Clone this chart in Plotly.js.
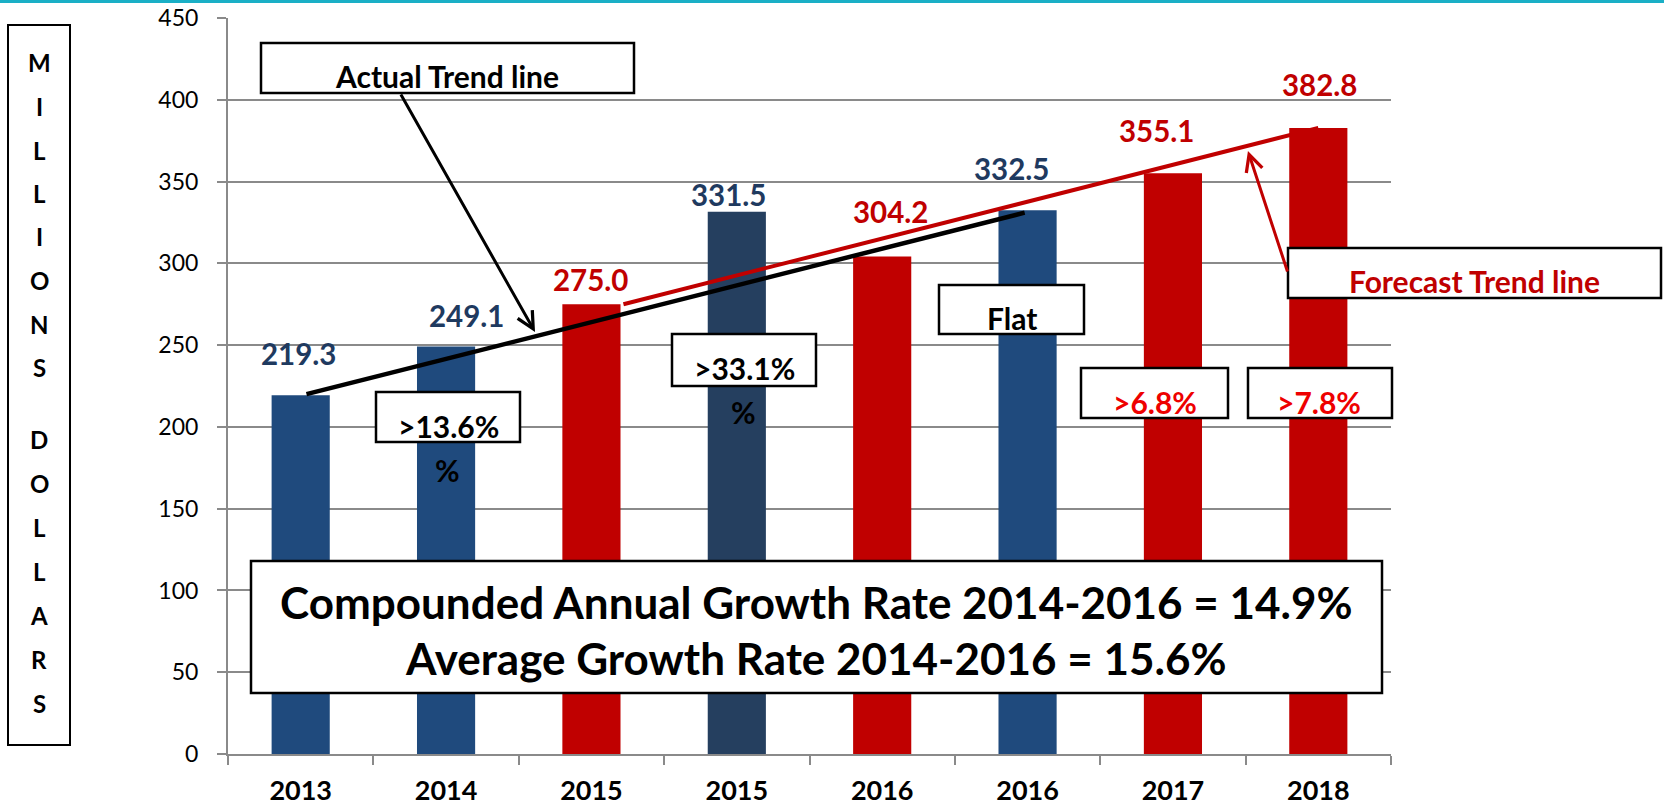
<!DOCTYPE html>
<html>
<head>
<meta charset="utf-8">
<script src="https://cdn.plot.ly/plotly-3.0.1.min.js"></script>
<style>
body { margin: 0; background: #fff; }
#plot { width: 1664px; height: 810px; }
</style>
</head>
<body>
<div id="plot"></div>
<script>
// values
var years = ["2013", "2014", "2015", "2015", "2016", "2016", "2017", "2018"];
var revenue = [219.3, 249.1, 275.0, 331.5, 304.2, 332.5, 355.1, 382.8];

// trend lines (x = category slot, y = millions)
var actualTrendX = [0.04, 4.98];
var actualTrendY = [220, 331];
var forecastTrendX = [2.22, 7.0];
var forecastTrendY = [275, 382.8];

var growthLabels = [">13.6%", ">33.1%", "Flat", ">6.8%", ">7.8%"];
var summaryLines = ["Compounded Annual Growth Rate 2014-2016 = 14.9%", "Average Growth Rate 2014-2016 = 15.6%"];
var axisWord1 = "MILLIONS";
var axisWord2 = "DOLLARS";

// styles
var BLUE = "#1F4A7D", NAVY = "#253F5F", RED = "#C00000";
var barColors = [BLUE, BLUE, RED, NAVY, RED, BLUE, RED, RED];
var labelColors = ["#1F3A5F", "#1F3A5F", RED, "#1F3A5F", RED, "#1F3A5F", RED, RED];
// label nudges in px (labels sit by hand above the bars)
var labelDx = [-2, 20, -1, -8, 8, -16, -16, 1];
var labelDy = [42, 31, 25, 17, 45, 42, 43, 43];

var FONT = "Lato, 'Open Sans', sans-serif";
var GRID = "#8a8a8a";

// plot box in page pixels
var L = 228, R = 1391, T = 18, B = 754;
function fx(p) { return (p - L) / (R - L); }
function fy(p) { return (B - p) / (B - T); }

var idx = years.map(function (d, i) { return i; });
var bounds = years.map(function (d, i) { return i - 0.5; }).concat([years.length - 0.5]);

var bars = {
  type: "bar",
  x: idx,
  y: revenue,
  marker: { color: barColors },
  hoverinfo: "none"
};

var actualTrend = {
  type: "scatter",
  mode: "lines",
  x: actualTrendX,
  y: actualTrendY,
  line: { color: "#000", width: 4.5 },
  hoverinfo: "none"
};

var forecastTrend = {
  type: "scatter",
  mode: "lines",
  x: forecastTrendX,
  y: forecastTrendY,
  line: { color: RED, width: 4 },
  hoverinfo: "none"
};

var shapes = [];
var annotations = [];

function box(x0, y0, x1, y1) {
  shapes.push({
    type: "rect", xref: "paper", yref: "paper", layer: "above",
    x0: fx(x0), x1: fx(x1), y0: fy(y1), y1: fy(y0),
    fillcolor: "#fff", line: { color: "#000", width: 2.5 }
  });
}
function txt(x, y, text, color, size) {
  annotations.push({
    xref: "paper", yref: "paper", x: fx(x), y: fy(y),
    xanchor: "center", yanchor: "middle", showarrow: false,
    text: "<b>" + text + "</b>",
    font: { family: FONT, size: size, color: color }
  });
}

// value labels
revenue.forEach(function (v, i) {
  annotations.push({
    x: i, y: v, xref: "x", yref: "y",
    text: "<b>" + v.toFixed(1) + "</b>",
    showarrow: false, xanchor: "center", yanchor: "middle",
    xshift: labelDx[i], yshift: labelDy[i],
    font: { family: FONT, size: 29.5, color: labelColors[i] }
  });
});

// top cyan rule
shapes.push({
  type: "line", xref: "paper", yref: "paper",
  x0: fx(0), x1: fx(1664), y0: fy(1.5), y1: fy(1.5),
  line: { color: "#1AAFC6", width: 3 }
});

// axis word box on the left
shapes.push({
  type: "rect", xref: "paper", yref: "paper",
  x0: fx(8), x1: fx(70), y0: fy(745), y1: fy(25),
  line: { color: "#000", width: 2 }
});
axisWord1.split("").forEach(function (c, i) { txt(39, 63 + i * 43.5, c, "#000", 24); });
axisWord2.split("").forEach(function (c, i) { txt(39, 439 + i * 44, c, "#000", 24); });

// callout boxes
box(261, 43, 634, 93);    txt(447, 76, "Actual Trend line", "#000", 30);
box(1288, 248, 1661, 298); txt(1474, 281, "Forecast Trend line", RED, 30);
box(376, 392, 520, 442);  txt(448, 426, growthLabels[0], "#000", 30);
txt(447, 470, "%", "#000", 30);
box(672, 334, 816, 386);  txt(744, 368, growthLabels[1], "#000", 30);
txt(743, 412, "%", "#000", 30);
box(939, 285, 1084, 334); txt(1012, 318, growthLabels[2], "#000", 30);
box(1081, 368, 1228, 418); txt(1155, 402, growthLabels[3], "#EE0000", 30);
box(1248, 368, 1392, 418); txt(1319, 402, growthLabels[4], "#EE0000", 30);

// summary box
box(251, 561, 1382, 693);
txt(816, 602, summaryLines[0], "#000", 44);
txt(816, 658, summaryLines[1], "#000", 44);

// arrows
annotations.push({
  xref: "x", yref: "y", x: 1.612, y: 258, ax: 400 - 535, ay: 93 - 332,
  text: "", showarrow: true, arrowhead: 5, arrowsize: 1.1, arrowwidth: 3,
  arrowcolor: "#000", standoff: 0, font: { size: 1 }
});
annotations.push({
  xref: "x", yref: "y", x: 6.516, y: 368.7, ax: 1288 - 1248, ay: 273 - 151,
  text: "", showarrow: true, arrowhead: 5, arrowsize: 1.1, arrowwidth: 3,
  arrowcolor: RED, standoff: 0, font: { size: 1 }
});

var layout = {
  width: 1664,
  height: 810,
  margin: { l: L, r: 1664 - R, t: T, b: 810 - B },
  paper_bgcolor: "#fff",
  plot_bgcolor: "#fff",
  showlegend: false,
  bargap: 0.6,
  xaxis: {
    range: [-0.5, years.length - 0.5],
    tickmode: "array",
    tickvals: idx,
    ticktext: years,
    ticks: "",
    showgrid: false,
    zeroline: false,
    showline: true,
    linecolor: GRID,
    linewidth: 2,
    ticklabelstandoff: 12,
    tickfont: { family: FONT, size: 27, color: "#000", weight: "bold" },
    minor: { tickmode: "array", tickvals: bounds, ticks: "outside", ticklen: 9, tickwidth: 2, tickcolor: GRID, showgrid: false }
  },
  yaxis: {
    range: [0, 450],
    dtick: 50,
    showgrid: true,
    gridcolor: GRID,
    gridwidth: 2,
    zeroline: false,
    showline: true,
    linecolor: GRID,
    linewidth: 2,
    ticks: "outside",
    ticklen: 9,
    tickwidth: 2,
    tickcolor: GRID,
    ticklabelstandoff: 14,
    tickfont: { family: FONT, size: 23, color: "#000" }
  },
  shapes: shapes,
  annotations: annotations
};

Plotly.newPlot("plot", [bars, actualTrend, forecastTrend], layout, { displayModeBar: false, staticPlot: true });
</script>
</body>
</html>
